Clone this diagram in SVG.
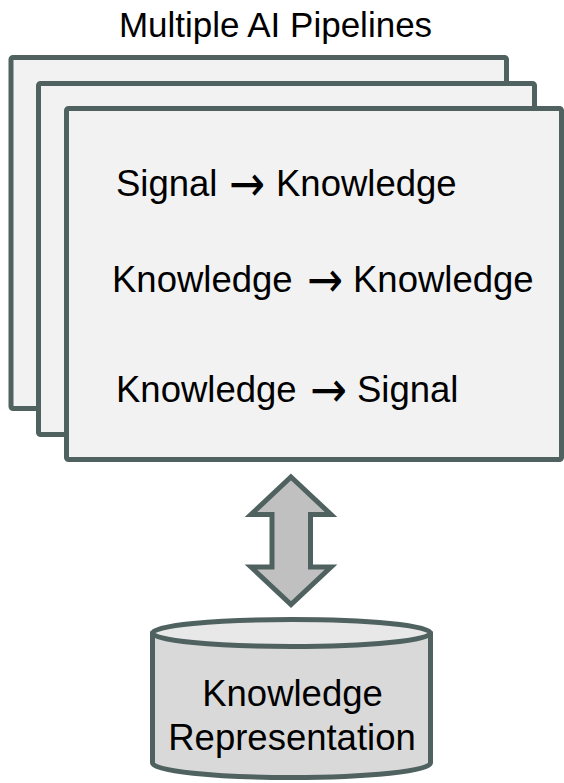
<svg xmlns="http://www.w3.org/2000/svg" width="564" height="783" viewBox="0 0 564 783">
  <style>
    .card { fill: #f2f2f2; stroke: #4f6260; stroke-width: 5; }
    .lbl { font-family: "Liberation Sans", Arial, sans-serif; font-size: 36.5px; fill: #000; }
    .title { font-size: 35px; }
    .arr { font-family: "DejaVu Sans", sans-serif; font-size: 50px; }
    .link { fill: #c0c0c0; stroke: #4f6260; stroke-width: 5; stroke-linejoin: miter; }
    .drum-side { fill: #d9d9d9; stroke: #4f6260; stroke-width: 5; }
    .drum-top { fill: #e8e8e8; stroke: #4f6260; stroke-width: 5; }
  </style>

  <text class="lbl title" x="275.5" y="37" text-anchor="middle">Multiple AI Pipelines</text>

  <!-- stacked pipeline cards -->
  <g id="pipeline-3">
    <rect class="card" x="11" y="57.5" width="495.5" height="351" rx="2"/>
  </g>
  <g id="pipeline-2">
    <rect class="card" x="38.5" y="83.5" width="496" height="351" rx="2"/>
  </g>
  <g id="pipeline-1">
    <rect class="card" x="66.5" y="108.5" width="495" height="351" rx="2"/>
    <text class="lbl" y="196"><tspan x="116">Signal</tspan><tspan class="arr" x="229" y="201" textLength="36" lengthAdjust="spacingAndGlyphs">→</tspan><tspan x="276" y="196">Knowledge</tspan></text>
    <text class="lbl" y="292"><tspan x="112">Knowledge</tspan><tspan class="arr" x="307" y="297" textLength="36" lengthAdjust="spacingAndGlyphs">→</tspan><tspan x="353" y="292">Knowledge</tspan></text>
    <text class="lbl" y="402"><tspan x="116">Knowledge</tspan><tspan class="arr" x="310" y="407" textLength="37" lengthAdjust="spacingAndGlyphs">→</tspan><tspan x="357" y="402">Signal</tspan></text>
  </g>

  <!-- two-way link between pipelines and store -->
  <g id="connectors">
    <path class="link" d="M291,477 L331,514.5 L310.5,514.5 L310.5,567 L331,567 L291,604.5 L251,567 L272,567 L272,514.5 L251,514.5 Z"/>
  </g>

  <!-- knowledge store drum -->
  <g id="knowledge-representation">
    <path class="drum-side" d="M152.5,634 L152.5,763 A139,14.5 0 0 0 430.5,763 L430.5,634 Z"/>
    <ellipse class="drum-top" cx="291.5" cy="633" rx="139" ry="13.5"/>
    <text class="lbl" x="292.5" y="706" text-anchor="middle">Knowledge</text>
    <text class="lbl" x="292" y="750" text-anchor="middle">Representation</text>
  </g>
</svg>
